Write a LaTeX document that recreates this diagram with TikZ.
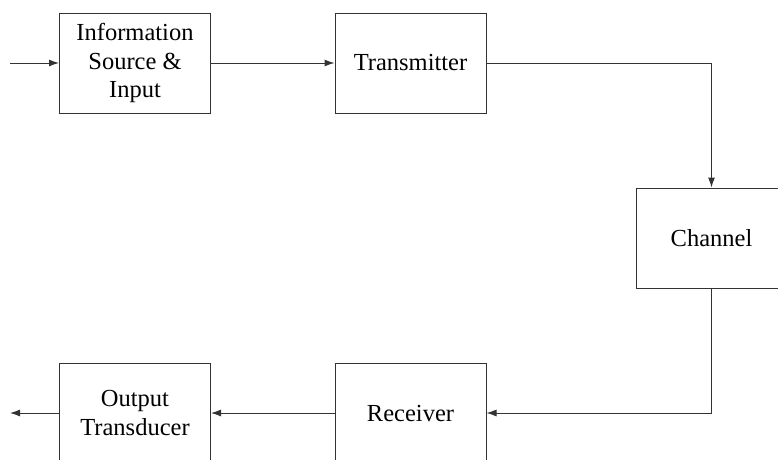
\documentclass[tikz,border=0pt]{standalone}
\usepackage{fontspec}
\setmainfont{Liberation Serif}
\usetikzlibrary{arrows.meta}
\tikzset{
  block/.style={draw=black!80, line width=1pt, minimum width=151pt, minimum height=100pt,
    align=center, inner sep=2pt, font=\fontsize{24.5}{28.5}\selectfont},
  link/.style={draw=black!80, line width=1pt, -{Latex[length=10pt,width=7pt]}},
}
\begin{document}
\begin{tikzpicture}[x=1pt,y=-1pt]
  \clip (0,0) rectangle (778,459);
  \useasboundingbox (0,0) rectangle (778,459);
  \fill[white] (0,0) rectangle (778,459);

  % blocks of the communication chain
  \node[block] (src)  at (135,63)    {Information\\Source \&\\Input};
  \node[block] (tx)   at (410.5,63)  {Transmitter};
  \node[block] (chan) at (711.5,238) {Channel};
  \node[block] (rx)   at (410.5,413) {Receiver};
  \node[block] (out)  at (135,413)   {Output\\Transducer};

  % free ends of the chain
  \coordinate (in)   at (10,63);
  \coordinate (sink) at (10,413);

  % signal path
  \draw[link] (in) -- (src.west);
  \draw[link] (src.east) -- (tx.west);
  \draw[link] (tx.east) -| (chan.north);
  \draw[link] (chan.south) |- (rx.east);
  \draw[link] (rx.west) -- (out.east);
  \draw[link] (out.west) -- (sink);
\end{tikzpicture}
\end{document}
